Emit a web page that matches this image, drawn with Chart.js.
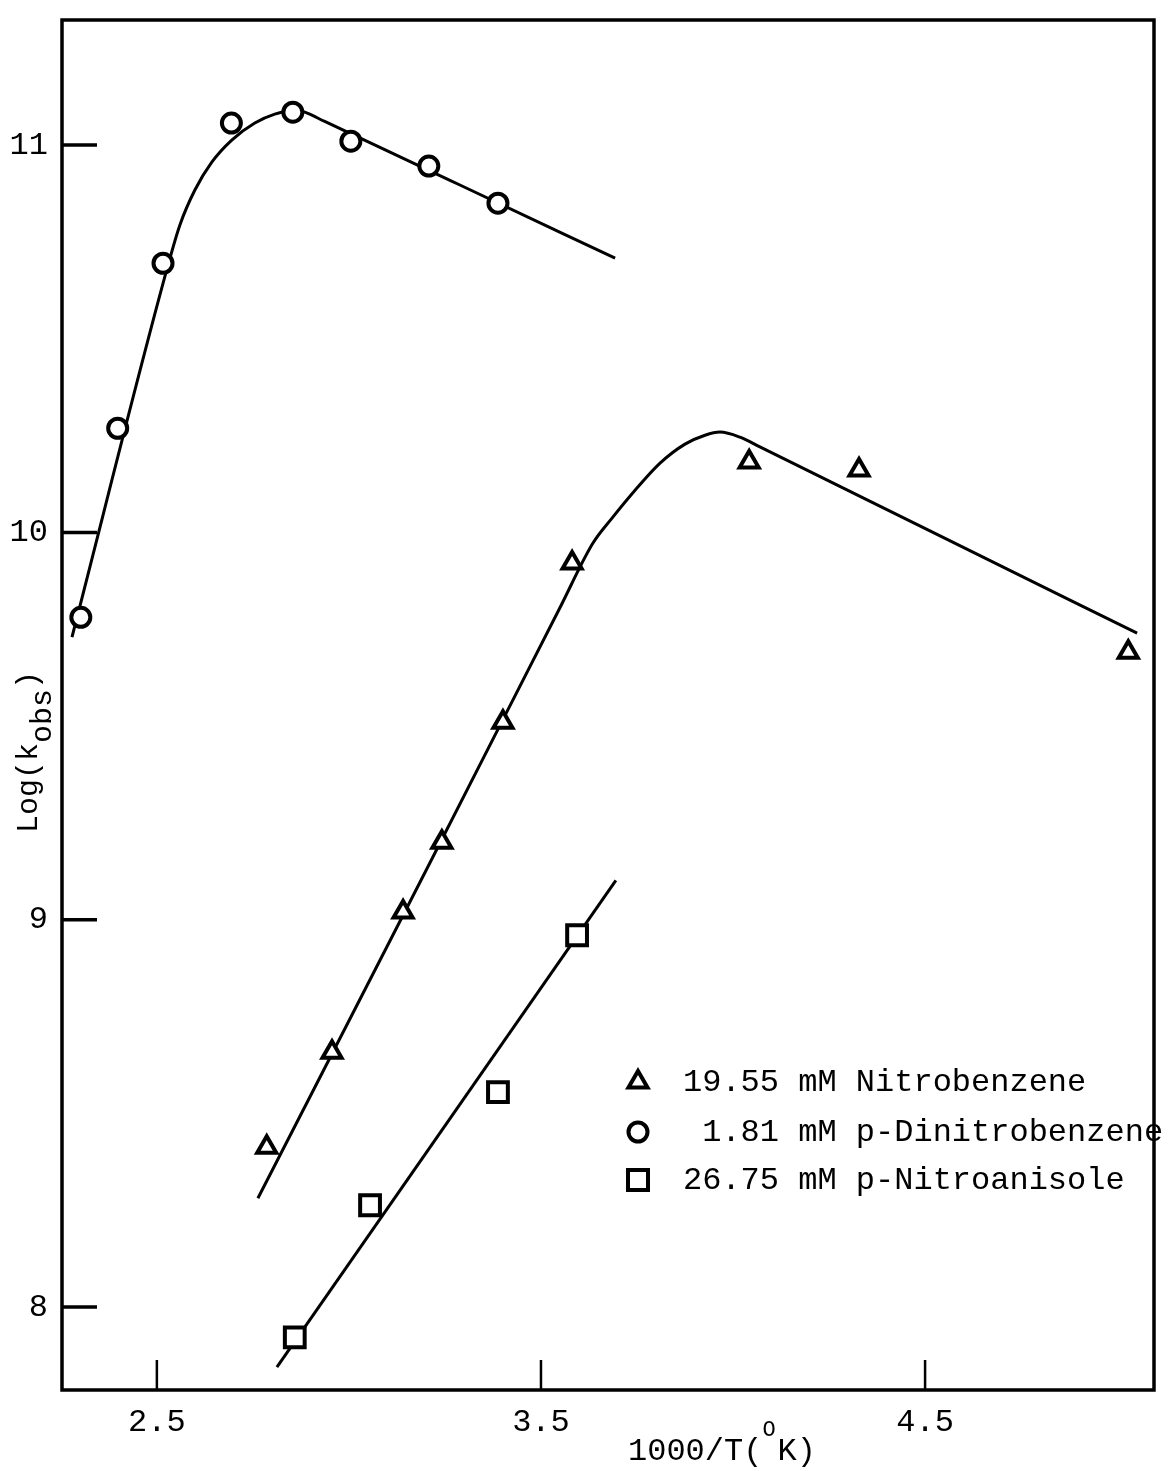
<!DOCTYPE html>
<html>
<head>
<meta charset="utf-8">
<script src="https://cdn.jsdelivr.net/npm/chart.js@4/dist/chart.umd.min.js"></script>
<style>
  html, body { margin: 0; padding: 0; background: #fff; }
  canvas { display: block; }
</style>
</head>
<body>
<canvas id="c" width="1168" height="1471"></canvas>
<script>
// Measured rate constants: log(k_obs) against 1000/T
const nitrobenzeneX = [2.786, 2.956, 3.141, 3.242, 3.401, 3.581, 4.042, 4.328, 5.029];
const nitrobenzeneY = [8.413, 8.658, 9.020, 9.200, 9.510, 9.921, 10.182, 10.161, 9.691];

const dinitroX = [2.302, 2.398, 2.516, 2.694, 2.854, 3.005, 3.208, 3.388];
const dinitroY = [9.781, 10.269, 10.695, 11.057, 11.085, 11.010, 10.946, 10.850];

const anisoleX = [2.859, 3.055, 3.388, 3.594];
const anisoleY = [7.922, 8.263, 8.555, 8.960];

// Smooth curves drawn through each set
const nitrobenzeneFitX = [2.763, 3.201, 3.549, 3.635, 3.685, 3.745, 3.810, 3.875, 3.927, 3.966, 4.018, 4.070, 4.539, 5.052];
const nitrobenzeneFitY = [8.281, 9.128, 9.805, 9.972, 10.037, 10.109, 10.179, 10.228, 10.251, 10.259, 10.246, 10.221, 9.991, 9.740];

const dinitroFitX = [2.279, 2.529, 2.560, 2.599, 2.643, 2.695, 2.755, 2.807, 2.859, 2.885, 2.937, 3.289, 3.693];
const dinitroFitY = [9.730, 10.690, 10.794, 10.884, 10.956, 11.013, 11.057, 11.080, 11.090, 11.085, 11.061, 10.897, 10.708];

const anisoleFitX = [2.8125, 3.695];
const anisoleFitY = [7.845, 9.102];

// Axis ticks and labels
const xTickValues = [2.5, 3.5, 4.5];
const xTickLabels = ['2.5', '3.5', '4.5'];
const yTickValues = [8, 9, 10, 11];
const yTickLabels = ['8', '9', '10', '11'];

const seriesLabels = ['19.55 mM Nitrobenzene', ' 1.81 mM p-Dinitrobenzene', '26.75 mM p-Nitroanisole'];

const FONT = "'Liberation Mono', 'Courier New', monospace";

const pts = (xs, ys) => xs.map((x, i) => ({ x: x, y: ys[i] }));

const markerBase = {
  showLine: false,
  backgroundColor: '#fff',
  borderColor: '#000',
  order: 1
};
const fitBase = {
  showLine: true,
  pointRadius: 0,
  pointHoverRadius: 0,
  borderColor: '#000',
  borderWidth: 3,
  cubicInterpolationMode: 'monotone',
  fill: false,
  order: 2
};

// Shapes used in the key, same sizes as the plotted points
function drawShape(ctx, style, x, y) {
  ctx.beginPath();
  if (style === 'triangle') {
    const r = 11;
    for (let k = 0; k < 3; k++) {
      const a = k * 2 * Math.PI / 3;
      const px = x + Math.sin(a) * r, py = y - Math.cos(a) * r;
      k === 0 ? ctx.moveTo(px, py) : ctx.lineTo(px, py);
    }
    ctx.closePath();
  } else if (style === 'circle') {
    ctx.arc(x, y, 9.5, 0, Math.PI * 2);
  } else {
    ctx.rect(x - 10, y - 10, 20, 20);
  }
  ctx.lineWidth = 4;
  ctx.fillStyle = '#fff';
  ctx.fill();
  ctx.strokeStyle = '#000';
  ctx.stroke();
}

const frameTicks = {
  id: 'frameTicks',
  beforeDatasetsDraw(chart) {
    const { ctx, chartArea: a, scales: { x, y } } = chart;
    ctx.save();
    ctx.strokeStyle = '#000';
    ctx.lineWidth = 3.5;
    ctx.strokeRect(a.left, a.top, a.right - a.left, a.bottom - a.top);
    ctx.lineWidth = 2.5;
    ctx.beginPath();
    xTickValues.forEach(v => {
      const px = x.getPixelForValue(v);
      ctx.moveTo(px, a.bottom);
      ctx.lineTo(px, a.bottom - 30);
    });
    ctx.stroke();
    ctx.lineWidth = 3.5;
    ctx.beginPath();
    yTickValues.forEach(v => {
      const py = y.getPixelForValue(v);
      ctx.moveTo(a.left, py);
      ctx.lineTo(a.left + 35, py);
    });
    ctx.stroke();
    ctx.restore();
  }
};

const keyAndTitles = {
  id: 'keyAndTitles',
  afterDraw(chart) {
    const { ctx } = chart;
    ctx.save();
    ctx.fillStyle = '#000';

    // key
    const styles = ['triangle', 'circle', 'rect'];
    const rows = [1082, 1132, 1180];
    ctx.font = '32px ' + FONT;
    ctx.textAlign = 'left';
    ctx.textBaseline = 'middle';
    styles.forEach((s, i) => {
      drawShape(ctx, s, 638, rows[i]);
      ctx.fillStyle = '#000';
      ctx.fillText(seriesLabels[i], 683, rows[i] + 1);
    });

    // x-axis title with superscript
    ctx.textBaseline = 'alphabetic';
    ctx.font = '32px ' + FONT;
    let tx = 628;
    const ty = 1460;
    const a1 = '1000/T(';
    ctx.fillText(a1, tx, ty);
    tx += ctx.measureText(a1).width;
    ctx.font = '22px ' + FONT;
    ctx.fillText('O', tx, ty - 24);
    tx += ctx.measureText('O').width + 2;
    ctx.font = '32px ' + FONT;
    ctx.fillText('K)', tx, ty);

    // y-axis title with subscript
    ctx.translate(37, 833);
    ctx.rotate(-Math.PI / 2);
    ctx.font = '30px ' + FONT;
    let sx = 0;
    ctx.fillText('Log(k', sx, 0);
    sx += ctx.measureText('Log(k').width;
    ctx.fillText('obs', sx, 14);
    sx += ctx.measureText('obs').width;
    ctx.fillText(')', sx, 0);
    ctx.restore();
  }
};

new Chart(document.getElementById('c'), {
  type: 'scatter',
  data: {
    datasets: [
      Object.assign({}, markerBase, {
        label: seriesLabels[0], data: pts(nitrobenzeneX, nitrobenzeneY),
        pointStyle: 'triangle', pointRadius: 11, pointBorderWidth: 4
      }),
      Object.assign({}, markerBase, {
        label: seriesLabels[1], data: pts(dinitroX, dinitroY),
        pointStyle: 'circle', pointRadius: 9.5, pointBorderWidth: 4
      }),
      Object.assign({}, markerBase, {
        label: seriesLabels[2], data: pts(anisoleX, anisoleY),
        pointStyle: 'rect', pointRadius: 14, pointBorderWidth: 4
      }),
      Object.assign({}, fitBase, { label: 'fit-nb', data: pts(nitrobenzeneFitX, nitrobenzeneFitY) }),
      Object.assign({}, fitBase, { label: 'fit-dnb', data: pts(dinitroFitX, dinitroFitY) }),
      Object.assign({}, fitBase, { label: 'fit-na', data: pts(anisoleFitX, anisoleFitY) })
    ]
  },
  options: {
    responsive: false,
    devicePixelRatio: 1,
    animation: false,
    layout: { autoPadding: false, padding: { top: 20, right: 14, left: 0, bottom: 0 } },
    plugins: {
      legend: { display: false },
      tooltip: { enabled: false }
    },
    scales: {
      x: {
        type: 'linear',
        min: 2.253,
        max: 5.096,
        afterBuildTicks: s => { s.ticks = xTickValues.map(v => ({ value: v })); },
        afterFit: s => { s.height = 81; s.paddingLeft = 0; s.paddingRight = 0; },
        grid: { display: false, drawTicks: false },
        border: { display: false },
        ticks: {
          color: '#000',
          font: { family: FONT, size: 32 },
          padding: 13,
          maxRotation: 0,
          callback: v => xTickLabels[xTickValues.indexOf(v)]
        }
      },
      y: {
        type: 'linear',
        min: 7.786,
        max: 11.323,
        afterBuildTicks: s => { s.ticks = yTickValues.map(v => ({ value: v })); },
        afterFit: s => { s.width = 62; s.paddingTop = 0; s.paddingBottom = 0; },
        grid: { display: false, drawTicks: false },
        border: { display: false },
        ticks: {
          color: '#000',
          font: { family: FONT, size: 32 },
          padding: 14,
          callback: v => yTickLabels[yTickValues.indexOf(v)]
        }
      }
    }
  },
  plugins: [frameTicks, keyAndTitles]
});
</script>
</body>
</html>
